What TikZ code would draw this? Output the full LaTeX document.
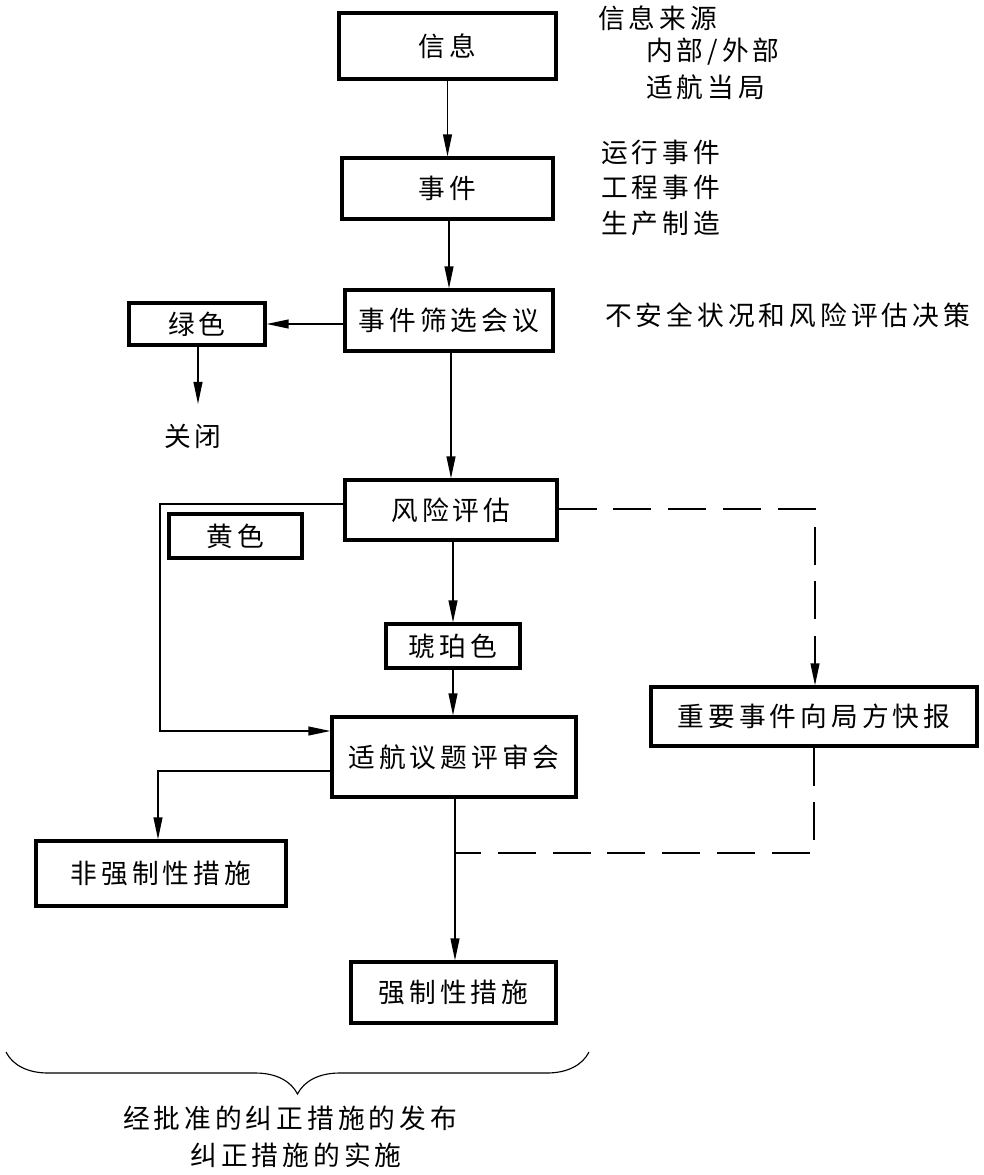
\documentclass[tikz,border=0pt]{standalone}
\usepackage{fontspec}
\newfontfamily\cjk[LetterSpace=15]{Noto Sans CJK SC}
\usetikzlibrary{arrows.meta,decorations.pathreplacing}
\def\pxu{0.025cm}
\tikzset{
  box/.style={draw, line width=2.2pt, inner sep=0pt, font=\cjk\fontsize{19}{23}\selectfont},
  lbl/.style={inner sep=0pt, font=\cjk\fontsize{19}{23}\selectfont},
  con/.style={line width=1.1pt},
  arr/.style={con, -{Triangle[length=0.55cm,width=0.22cm]}},
  dashline/.style={con, dash pattern=on 0.95cm off 0.42cm},
}
\begin{document}
\begin{tikzpicture}[x=0.025cm, y=-0.025cm]
\useasboundingbox (0,0) rectangle (984,1175);
% boxes
\node[box, minimum width=217*\pxu, minimum height=66*\pxu] (info) at (447.5,46) {信息};
\node[box, minimum width=211*\pxu, minimum height=61*\pxu] (event) at (447.5,188.5) {事件};
\node[box, minimum width=208*\pxu, minimum height=61*\pxu] (screen) at (449,320.5) {事件筛选会议};
\node[box, minimum width=136*\pxu, minimum height=42*\pxu] (green) at (197,324) {绿色};
\node[box, minimum width=212*\pxu, minimum height=60*\pxu] (risk) at (451,510) {风险评估};
\node[box, minimum width=133*\pxu, minimum height=44*\pxu] (yellow) at (235.5,536) {黄色};
\node[box, minimum width=134*\pxu, minimum height=44*\pxu] (amber) at (453,646) {琥珀色};
\node[box, minimum width=244*\pxu, minimum height=80*\pxu] (review) at (454,757) {适航议题评审会};
\node[box, minimum width=326*\pxu, minimum height=59*\pxu] (report) at (814,716.5) {重要事件向局方快报};
\node[box, minimum width=250*\pxu, minimum height=65*\pxu] (nonmand) at (161,873.5) {非强制性措施};
\node[box, minimum width=205*\pxu, minimum height=61*\pxu] (mand) at (453.5,992.5) {强制性措施};
% labels
\node[lbl, anchor=west] (src1) at (598,18) {信息来源};
\node[lbl, anchor=west] (src2) at (646,52) {内部/外部};
\node[lbl, anchor=west] (src3) at (646,87) {适航当局};
\node[lbl, anchor=west] (ev1) at (601,152) {运行事件};
\node[lbl, anchor=west] (ev2) at (601,187) {工程事件};
\node[lbl, anchor=west] (ev3) at (601,223) {生产制造};
\node[lbl, anchor=west] (dec) at (605,315) {不安全状况和风险评估决策};
\node[lbl] (close) at (193,436) {关闭};
\node[lbl] (pub) at (290,1118) {经批准的纠正措施的发布};
\node[lbl] (impl) at (296,1155) {纠正措施的实施};
% coordinates
\coordinate (yl1) at (160,504);
\coordinate (yl2) at (160,731);
\coordinate (nl) at (158,771);
\coordinate (j) at (455,853);
\coordinate (dr) at (815,509);
\coordinate (ce) at (198,404);
% connectors
\draw[arr] (info.south) -- (info.south |- event.north);
\draw[arr] (event.south -| screen.north) -- (screen.north);
\draw[arr] (screen.west |- green.east) -- (green.east);
\draw[arr] (green.south -| ce) -- (ce);
\draw[arr] (screen.south -| risk.north) -- (risk.north);
\draw[arr] (risk.south -| amber.north) -- (amber.north);
\draw[arr] (amber.south) -- (amber.south |- review.north);
\draw[arr] (risk.west |- yl1) -- (yl1) -- (yl2) -- (yl2 -| review.west);
\draw[arr] (review.west |- nl) -- (nl) -- (nl |- nonmand.north);
\draw[arr] (review.south -| j) -- (j |- mand.north);
\draw[dashline, -{Triangle[length=0.55cm,width=0.22cm]}] (risk.east |- dr) -- (dr) -- (dr |- report.north);
\draw[dashline] (report.south) -- (report.south |- j) -- (j);
% brace
\draw[line width=0.8pt, decorate, decoration={brace, mirror, amplitude=1.05cm}] (6,1052) -- (589,1052);
\end{tikzpicture}
\end{document}
